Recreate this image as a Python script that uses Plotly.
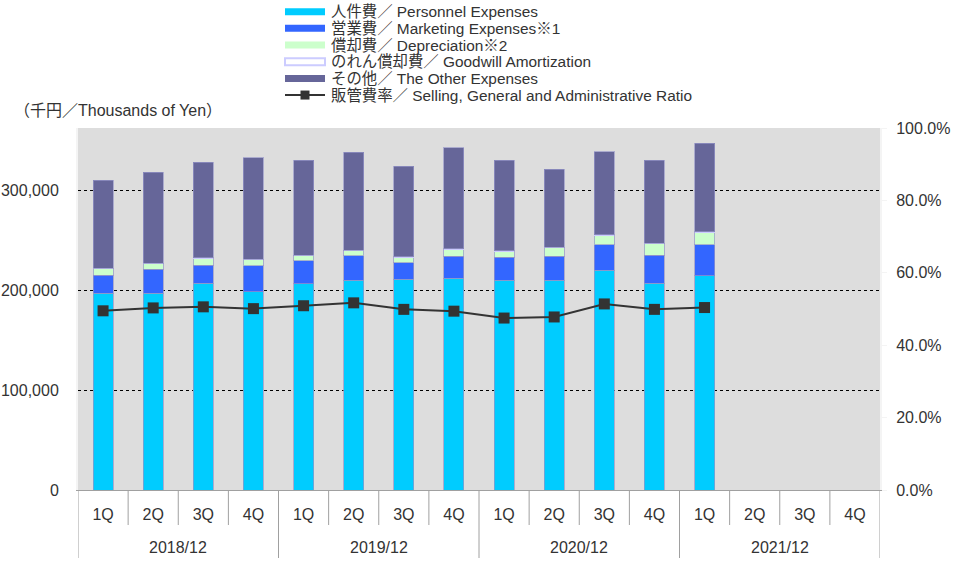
import plotly.graph_objects as go

years = ["2018/12"] * 4 + ["2019/12"] * 4 + ["2020/12"] * 4 + ["2021/12"] * 4
quarters = ["1Q", "2Q", "3Q", "4Q"] * 4
fiscal_years = ["2018/12", "2019/12", "2020/12", "2021/12"]

personnel = [196700, 196700, 207000, 198300, 206300, 210000, 210700, 211700,
             209700, 210000, 219700, 206700, 214300, None, None, None]
marketing = [18300, 24300, 18000, 26000, 23000, 24300, 16600, 22300,
             23300, 23700, 25600, 28000, 31000, None, None, None]
depreciation = [6700, 6000, 7300, 6400, 5400, 5700, 6000, 7300,
                6300, 9300, 10000, 12000, 13000, None, None, None]
goodwill = [0, 0, 0, 0, 0, 0, 0, 0, 0, 0, 0, 0, 0, None, None, None]
other = [88300, 90700, 95700, 101600, 95300, 97700, 90400, 101000,
         90400, 78000, 83000, 83000, 88700, None, None, None]
sga_ratio = [0.495, 0.503, 0.506, 0.501, 0.509, 0.517, 0.499, 0.494,
             0.475, 0.478, 0.514, 0.499, 0.504, None, None, None]

left_ticks = [0, 100000, 200000, 300000]
left_ticktext = ["0", "100,000", "200,000", "300,000"]

names = ["人件費／ Personnel Expenses", "営業費／ Marketing Expenses※1",
         "償却費／ Depreciation※2", "のれん償却費／ Goodwill Amortization",
         "その他／ The Other Expenses",
         "販管費率／ Selling, General and Administrative Ratio"]
colors = ["#00CCFF", "#3366FF", "#CCFFCC", "#FFFFFF", "#666699", "#333333"]

x = [f"{y} {q}" for y, q in zip(years, quarters)]
border = "rgba(150,150,200,0.7)"

# figure geometry (pixels)
W, H = 975, 561
ML, MR, MT, MB = 78, 95, 128, 71
PW, PH = W - ML - MR, H - MT - MB


def px_x(p):
    return (p - ML) / PW


def px_y(p):
    return (H - MB - p) / PH


fig = go.Figure()
series = [personnel, marketing, depreciation, goodwill, other]
for i, vals in enumerate(series):
    line = dict(color="#CCCCFF", width=2) if i == 3 else dict(color=border, width=1)
    fig.add_trace(go.Bar(x=x, y=vals, name=names[i],
                         marker=dict(color=colors[i], line=line)))
fig.add_trace(go.Scatter(x=x, y=sga_ratio, name=names[5], yaxis="y2",
                         mode="lines+markers",
                         line=dict(color="#333333", width=2),
                         marker=dict(symbol="square", size=11, color="#333333")))

font_family = "Liberation Sans, Arial, Noto Sans CJK JP, sans-serif"

shapes = []
annotations = []

# x-axis dividers: short ones between quarters, long ones between fiscal years
n = len(x)
for k in range(n + 1):
    long_div = (k % 4 == 0)
    shapes.append(dict(type="line", xref="x", yref="paper",
                       x0=k - 0.5, x1=k - 0.5, y0=0,
                       y1=px_y(558 if long_div else 525),
                       line=dict(color="#A0A0A0", width=1)))
for j, fy in enumerate(fiscal_years):
    annotations.append(dict(text=fy, xref="x", yref="paper", x=4 * j + 1.5,
                            y=px_y(547), xanchor="center", yanchor="middle",
                            showarrow=False,
                            font=dict(size=16, color="#333333")))

# axis unit label
annotations.append(dict(text="（千円／Thousands of Yen）", xref="paper", yref="paper",
                        x=px_x(12), y=px_y(110), xanchor="left", yanchor="middle",
                        showarrow=False, font=dict(size=16, color="#333333")))

# legend (drawn manually to match wide rectangular keys)
for i, nm in enumerate(names):
    cy = 11.7 + 16.67 * i
    if i < 5:
        lc = "#CCCCFF" if i == 3 else colors[i]
        shapes.append(dict(type="rect", xref="paper", yref="paper",
                           x0=px_x(285), x1=px_x(325),
                           y0=px_y(cy - 3.5), y1=px_y(cy + 3.5),
                           fillcolor=colors[i],
                           line=dict(color=lc, width=2 if i == 3 else 0)))
    else:
        shapes.append(dict(type="line", xref="paper", yref="paper",
                           x0=px_x(285), x1=px_x(325), y0=px_y(cy), y1=px_y(cy),
                           line=dict(color="#333333", width=2)))
        shapes.append(dict(type="rect", xref="paper", yref="paper",
                           x0=px_x(300.5), x1=px_x(309.5),
                           y0=px_y(cy - 4.5), y1=px_y(cy + 4.5),
                           fillcolor="#333333", line=dict(width=0)))
    annotations.append(dict(text=nm, xref="paper", yref="paper",
                            x=px_x(329), y=px_y(cy), xanchor="left", yanchor="middle",
                            showarrow=False, font=dict(size=15.4, color="#333333")))

fig.update_layout(
    width=W, height=H,
    margin=dict(l=ML, r=MR, t=MT, b=MB, autoexpand=False),
    paper_bgcolor="white",
    plot_bgcolor="#DDDDDD",
    barmode="stack",
    bargap=0.6,
    font=dict(family=font_family, size=16, color="#333333"),
    showlegend=False,
    xaxis=dict(type="category", tickvals=x, ticktext=quarters, showgrid=False,
               ticks="", showline=True, linecolor="#A0A0A0", linewidth=1,
               ticklabelstandoff=10, range=[-0.5, n - 0.5],
               tickfont=dict(size=16, color="#333333")),
    yaxis=dict(range=[0, 362000], tickvals=left_ticks, ticktext=left_ticktext,
               showgrid=True, gridcolor="#000000", griddash="dot", gridwidth=1,
               zeroline=False, showline=True, linecolor="#F4F4F4", linewidth=2,
               ticks="", ticklabelstandoff=14,
               tickfont=dict(size=16, color="#333333"), automargin=False),
    yaxis2=dict(range=[0, 1], overlaying="y", side="right", dtick=0.2,
                tickformat=".1%", showgrid=False, zeroline=False,
                showline=True, linecolor="#F4F4F4", linewidth=2,
                ticks="outside", tickcolor="#F4F4F4", ticklen=5,
                ticklabelstandoff=6,
                tickfont=dict(size=16, color="#333333")),
    shapes=shapes,
    annotations=annotations,
)

fig.write_html("out.html", config={"displayModeBar": False},
               post_script="document.body.style.margin='0';")
